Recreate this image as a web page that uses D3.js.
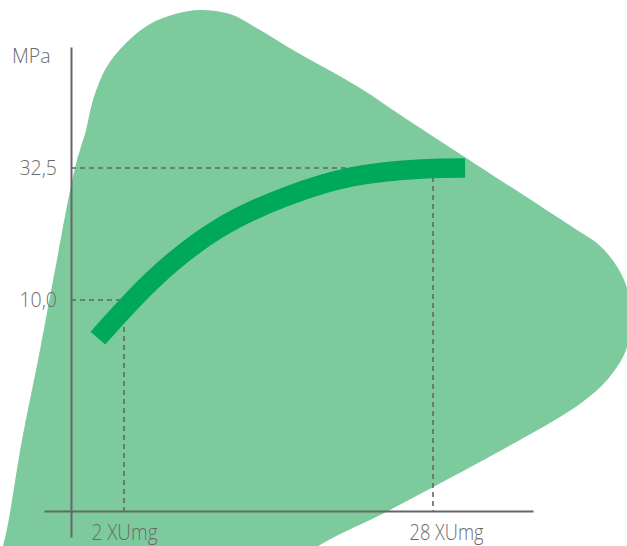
<!DOCTYPE html>
<meta charset="utf-8">
<style>
  body { margin: 0; background: #fff; }
  text { font-family: "Open Sans", sans-serif; font-weight: 300; fill: #6b6b6b; }
</style>
<svg id="chart" width="627" height="546"></svg>
<script src="https://d3js.org/d3.v7.min.js"></script>
<script>
// values
var xTicks = [2, 28];
var xTickLabels = ["2 XUmg", "28 XUmg"];
var yTicks = [10, 32.5];
var yTickLabels = ["10,0", "32,5"];
var yUnit = "MPa";

// strength curve (x in the same unit as the ticks, y in MPa)
var curveX = [-0.2, 4.4, 9.9, 15.6, 21.2, 26.7, 30.7];
var curveY = [3.5, 13.4, 22.1, 27.6, 31.0, 32.3, 32.5];

// background shape outline (pixels, decoration only)
var blobOutline = [
  [-10, 580], [3, 546], [22, 440], [40, 350], [55, 270], [75, 168], [86, 130],
  [93, 100], [106, 68], [126, 43], [150, 24], [175, 14], [200, 10], [230, 14],
  [260, 30], [293, 50], [360, 88], [408, 120], [577, 230], [598, 244], [614, 262],
  [626, 285], [631, 317], [626, 350], [608, 379], [585, 400], [560, 417],
  [390, 510], [320, 545], [270, 580]
];

var svg = d3.select("#chart");

var frame = { left: 44, right: 533, top: 47, bottom: 537, axisX: 71, axisY: 511 };

// anchors of the two ticks
var xScale = d3.scaleLinear().domain([2, 28]).range([124, 433]);
var yScale = d3.scaleLinear().domain([10, 32.5]).range([300, 168]);

// blob
svg.append("path")
   .attr("d", d3.line().curve(d3.curveCatmullRomClosed.alpha(0.5))(blobOutline))
   .attr("fill", "#7dcb9c");

// dashed guides
var guides = svg.append("g")
   .attr("stroke", "#666")
   .attr("stroke-width", 1.6)
   .attr("stroke-dasharray", "5,4")
   .attr("fill", "none");

yTicks.forEach(function(v, i){
  guides.append("line")
     .attr("x1", frame.axisX).attr("x2", xScale(xTicks[i]))
     .attr("y1", yScale(v)).attr("y2", yScale(v));
  guides.append("line")
     .attr("x1", xScale(xTicks[i])).attr("x2", xScale(xTicks[i]))
     .attr("y1", yScale(v)).attr("y2", frame.axisY);
});

// the curve
var pts = curveX.map(function(d, i){ return [xScale(d), yScale(curveY[i])]; });
svg.append("path")
   .attr("d", d3.line().curve(d3.curveNatural)(pts))
   .attr("fill", "none")
   .attr("stroke", "#00a85a")
   .attr("stroke-width", 19.5)
   .attr("stroke-linecap", "butt");

// axes
var xAxisScale = xScale.copy()
   .domain([xScale.invert(frame.left), xScale.invert(frame.right)])
   .range([frame.left, frame.right]);
var yAxisScale = yScale.copy()
   .domain([yScale.invert(frame.bottom), yScale.invert(frame.top)])
   .range([frame.bottom, frame.top]);

var xAxis = svg.append("g")
   .attr("transform", "translate(0," + frame.axisY + ")")
   .call(d3.axisBottom(xAxisScale).tickValues(xTicks).tickSize(0).tickSizeOuter(0)
          .tickFormat(function(d, i){ return xTickLabels[i]; }));
xAxis.select(".domain").attr("stroke", "#666").attr("stroke-width", 2);
xAxis.selectAll("text")
   .attr("y", 29)
   .attr("dy", 0)
   .attr("text-anchor", "start")
   .attr("x", function(d, i){ return i === 0 ? -33 : -24; })
   .attr("textLength", function(d, i){ return i === 0 ? 66 : 74; })
   .attr("lengthAdjust", "spacingAndGlyphs")
   .style("font-family", "'Open Sans', sans-serif")
   .style("font-weight", 300)
   .style("font-size", "22px")
   .attr("fill", "#6b6b6b");

var yAxis = svg.append("g")
   .attr("transform", "translate(" + frame.axisX + ",0)")
   .call(d3.axisLeft(yAxisScale).tickValues(yTicks).tickSize(0).tickSizeOuter(0)
          .tickFormat(function(d, i){ return yTickLabels[i]; }));
yAxis.select(".domain").attr("stroke", "#666").attr("stroke-width", 2);
yAxis.selectAll("text")
   .attr("x", -14)
   .attr("dy", "0.35em")
   .style("font-family", "'Open Sans', sans-serif")
   .style("font-weight", 300)
   .style("font-size", "19.5px")
   .attr("fill", "#6b6b6b");

svg.append("text")
   .attr("x", 12)
   .attr("y", 63)
   .style("font-size", "19.5px")
   .text(yUnit);
</script>
